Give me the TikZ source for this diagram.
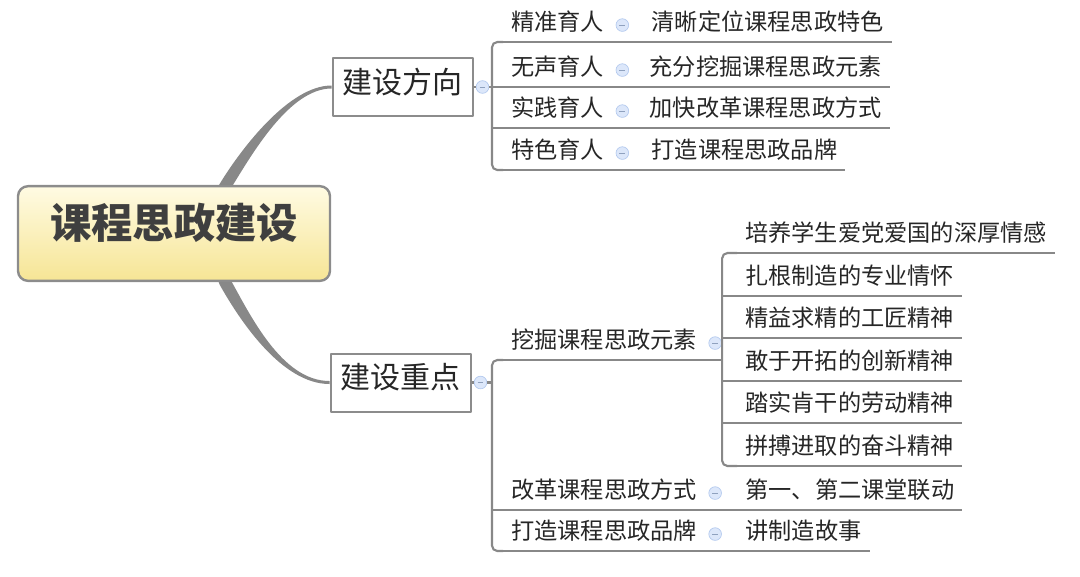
\documentclass[tikz,border=0pt]{standalone}
\usepackage{fontspec}
\setmainfont{Noto Sans CJK SC}
\usetikzlibrary{calc,backgrounds}

\definecolor{linegray}{HTML}{888888}
\definecolor{boxgray}{HTML}{8C8C8C}
\definecolor{rootTop}{HTML}{FFFBE3}
\definecolor{rootBot}{HTML}{F6E595}
\definecolor{foldFill}{HTML}{DCE7FA}
\definecolor{foldDraw}{HTML}{B3C9EE}
\definecolor{txt}{HTML}{262626}
\definecolor{rootTxt}{HTML}{3F3F3F}

\tikzset{
  mm_root/.style = {rounded corners=7.5pt, draw=boxgray, line width=1.8pt,
    top color=rootTop, bottom color=rootBot, text=rootTxt,
    minimum width=234pt, minimum height=71pt, inner sep=0pt,
    text height=0.76em, text depth=0pt,
    font=\fontsize{31pt}{36pt}\selectfont\bfseries},% racine
  mm_box/.style = {draw=boxgray, line width=1.5pt, fill=white, text=txt,
    minimum width=105pt, minimum height=43.5pt, inner sep=0pt,
    text height=0.9em, text depth=0pt,
    font=\fontsize{22.5pt}{26pt}\selectfont},% branche principale
  mm_topic/.style = {anchor=south west, inner xsep=6pt, inner ysep=8.7pt,
    text height=0.76em, text depth=0pt, text=txt,
    font=\fontsize{17.4pt}{20pt}\selectfont},% sujet souligne
  mm_fold/.style = {circle, draw=foldDraw, fill=foldFill, line width=0.5pt,
    minimum size=9.5pt, inner sep=0pt,
    path picture={\draw[foldDraw!80!black, line width=0.6pt]
      ([xshift=-2.2pt]path picture bounding box.center) --
      ([xshift=2.2pt]path picture bounding box.center);}},% bouton replier
  mm_line/.style = {draw=linegray, line width=1.6pt}
}

\begin{document}
\begin{tikzpicture}[x=0.75pt, y=-0.75pt, line join=round]
\useasboundingbox (0,0) rectangle (1080,576);

\node [mm_root] (root) at (174,233.5) {课程思政建设};
\node [mm_box] (dir) at (402.5,87) {建设方向};
\node [mm_box] (key) at (400.5,382.5) {建设重点};

% branche 1
\node [mm_fold] (f0) at ($(dir.east)+(9,0)$) {};
\coordinate (j0) at (492,87);
\node [mm_topic] (d1) at (503,42) {精准育人};
\node [mm_topic] (d2) at (503,87) {无声育人};
\node [mm_topic] (d3) at (503,128) {实践育人};
\node [mm_topic] (d4) at (503,170) {特色育人};
\node [mm_topic] (dd1) at ($(d1.south east)+(31,0)$) {清晰定位课程思政特色};
\node [mm_topic] (dd2) at ($(d2.south east)+(29,0)$) {充分挖掘课程思政元素};
\node [mm_topic] (dd3) at ($(d3.south east)+(29,0)$) {加快改革课程思政方式};
\node [mm_topic] (dd4) at ($(d4.south east)+(31,0)$) {打造课程思政品牌};
\foreach \n in {d1,d2,d3,d4}
  \node [mm_fold] (f\n) at ($(\n.east)+(10,0)$) {};

% branche 2
\node [mm_fold] (f1) at ($(key.east)+(9,0)$) {};
\coordinate (j1) at (492,382.5);
\node [mm_topic] (p1) at (503,360) {挖掘课程思政元素};
\node [mm_topic] (p2) at (503,510) {改革课程思政方式};
\node [mm_topic] (p3) at (503,551) {打造课程思政品牌};
\foreach \n in {p1,p2,p3}
  \node [mm_fold] (f\n) at ($(\n.east)+(10,0)$) {};
\coordinate (j2) at ($(p1.south east)+(17,0)$);
\node [mm_topic] (q1) at (737,253) {培养学生爱党爱国的深厚情感};
\node [mm_topic] (q2) at (737,296) {扎根制造的专业情怀};
\node [mm_topic] (q3) at (737,338) {精益求精的工匠精神};
\node [mm_topic] (q4) at (737,381) {敢于开拓的创新精神};
\node [mm_topic] (q5) at (737,423) {踏实肯干的劳动精神};
\node [mm_topic] (q6) at (737,466) {拼搏进取的奋斗精神};
\node [mm_topic] (r2) at ($(p2.south east)+(32,0)$) {第一、第二课堂联动};
\node [mm_topic] (r3) at ($(p3.south east)+(32,0)$) {讲制造故事};

% liaisons
\begin{scope}[on background layer]
\fill [linegray] ($(root.north)+(39,10)$) -- ($(root.north)+(47,-3.2)$)
  .. controls ($(root.north)+(68,-37.2)$) and ($(dir.west)+(-42,-1.5)$) .. ($(dir.west)+(0,-1.5)$)
  -- ($(dir.west)+(0,1.5)$)
  .. controls ($(dir.west)+(-42,1.5)$) and ($(root.north)+(78,-30.8)$) .. ($(root.north)+(57,3.2)$)
  -- ($(root.north)+(49,16)$) -- cycle;
\fill [linegray] ($(root.south)+(40,-12)$) -- ($(root.south)+(45.8,2.9)$)
  .. controls ($(root.south)+(65.4,37.7)$) and ($(key.west)+(-48,1.5)$) .. ($(key.west)+(0,1.5)$)
  -- ($(key.west)+(0,-1.5)$)
  .. controls ($(key.west)+(-48,-1.5)$) and ($(root.south)+(75.8,31.9)$) .. ($(root.south)+(56.2,-2.9)$)
  -- ($(root.south)+(50,-18)$) -- cycle;
\end{scope}

\draw [mm_line] (dir.east) -- (f0.west) (f0.east) -- (j0);
\draw [mm_line, rounded corners=4pt] (d1.south west) -| (j0) |- (d4.south west);
\foreach \n in {d2,d3}
  \draw [mm_line] (\n.south west -| j0) -- (\n.south west);
\foreach \a/\b in {d1/dd1,d2/dd2,d3/dd3,d4/dd4,p2/r2,p3/r3}
  \draw [mm_line] (\a.south east) -- (\b.south west);

\draw [mm_line] (key.east) -- (f1.west) (f1.east) -- (j1);
\draw [mm_line, rounded corners=4pt] (p1.south west) -| (j1) |- (p3.south west);
\draw [mm_line] (p2.south west -| j1) -- (p2.south west);
\draw [mm_line] (p1.south east) -- (j2);
\draw [mm_line, rounded corners=4pt] (q1.south west) -| (j2) |- (q6.south west);
\foreach \n in {q2,q3,q4,q5}
  \draw [mm_line] (\n.south west -| j2) -- (\n.south west);

% soulignements
\foreach \n in {d1,d2,d3,d4,dd1,dd2,dd3,dd4,p1,p2,p3,q1,q2,q3,q4,q5,q6,r2,r3}
  \draw [mm_line] (\n.south west) -- (\n.south east);
\end{tikzpicture}
\end{document}
